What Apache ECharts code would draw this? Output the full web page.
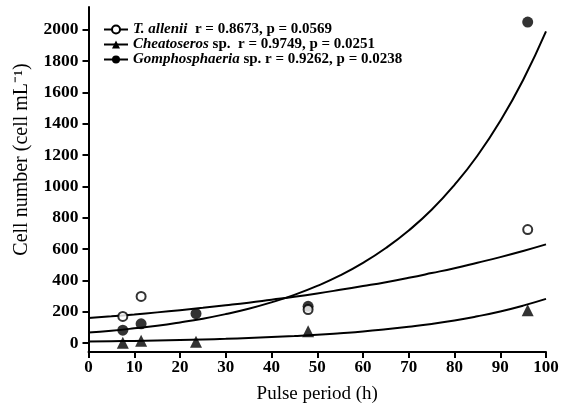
<!DOCTYPE html>
<html>
<head>
<meta charset="utf-8">
<script src="https://cdn.jsdelivr.net/npm/echarts@6/dist/echarts.min.js"></script>
<style>
html, body { margin: 0; padding: 0; background: #fff; }
#chart { width: 564px; height: 409px; }
</style>
</head>
<body>
<div id="chart"></div>
<script>
// measured points (pulse period h, cell mL-1)
var allenii = [[7.5, 170], [11.5, 298], [48, 214], [96, 725]];
var cheato = [[7.5, 2], [11.5, 15], [23.5, 8], [48, 75], [96, 210]];
var gompho = [[7.5, 82], [11.5, 123], [23.5, 188], [48, 235], [96, 2050]];

// fitted curves, every 5 h
var fitX = [0, 5, 10, 15, 20, 25, 30, 35, 40, 45, 50, 55, 60, 65, 70, 75, 80, 85, 90, 95, 100];
var fitAllenii = [160, 171, 183, 196, 210, 225, 241, 258, 277, 296, 317, 340, 364, 389, 417, 447, 478, 513, 549, 588, 630];
var fitCheato = [10, 12, 14, 16.5, 19.5, 23, 27, 32, 38, 45, 53, 63, 74, 88, 104, 122, 144, 171, 202, 239, 282];
var fitGompho = [67, 79, 94, 111, 132, 156, 185, 219, 260, 308, 365, 432, 512, 607, 719, 851, 1010, 1196, 1418, 1680, 1990];

var yTicks = [0, 200, 400, 600, 800, 1000, 1200, 1400, 1600, 1800, 2000];

var font = '"Liberation Serif", "Times New Roman", serif';

var pairs = function(xs, ys) {
	var out = [];
	for (var i = 0; i < xs.length; i++) {
		out.push([xs[i], ys[i]]);
	}
	return out;
};

var openDot = { color: '#fff', borderColor: '#000', borderWidth: 2 };
var fillDot = { color: '#000', borderColor: '#000', borderWidth: 0 };

var chart = echarts.init(document.getElementById('chart'));

chart.setOption({
	animation: false,
	backgroundColor: '#fff',
	grid: { left: 88.5, right: 18, top: 7, bottom: 56, containLabel: false },
	legend: {
		left: 98,
		top: 17,
		orient: 'vertical',
		itemWidth: 24,
		itemHeight: 10,
		itemGap: 0,
		data: ['ta', 'ch', 'go'],
		formatter: function(name) {
			if (name == 'ta') return '{i|T. allenii}{n|  r = 0.8673, p = 0.0569}';
			if (name == 'ch') return '{i|Cheatoseros}{n| sp.  r = 0.9749, p = 0.0251}';
			return '{i|Gomphosphaeria}{n| sp. r = 0.9262, p = 0.0238}';
		},
		textStyle: {
			color: '#000',
			rich: {
				i: { fontFamily: font, fontSize: 15, fontWeight: 'bold', fontStyle: 'italic', color: '#000', lineHeight: 14.5 },
				n: { fontFamily: font, fontSize: 15, fontWeight: 'bold', color: '#000', lineHeight: 14.5 }
			}
		}
	},
	xAxis: {
		type: 'value',
		min: 0,
		max: 100,
		interval: 10,
		name: 'Pulse period (h)',
		nameLocation: 'middle',
		nameGap: 33,
		nameTextStyle: { fontFamily: font, fontSize: 19, color: '#000' },
		axisLine: { onZero: false, lineStyle: { color: '#000', width: 2 } },
		axisTick: { length: 6, lineStyle: { color: '#000', width: 2 } },
		axisLabel: { fontFamily: font, fontSize: 17, fontWeight: 'bold', color: '#000', margin: 7 },
		splitLine: { show: false }
	},
	yAxis: {
		type: 'value',
		min: -57,
		max: 2146,
		name: 'Cell number (cell mL\u207B\u00B9)',
		nameLocation: 'middle',
		nameGap: 57,
		nameTextStyle: { fontFamily: font, fontSize: 20, color: '#000', padding: [0, 0, 0, 40] },
		axisLine: { onZero: false, lineStyle: { color: '#000', width: 2 } },
		axisTick: { length: 6, customValues: yTicks, lineStyle: { color: '#000', width: 2 } },
		axisLabel: {
			fontFamily: font, fontSize: 17.5, fontWeight: 'bold', color: '#000', margin: 10,
			customValues: yTicks,
			formatter: function(v) { return String(v); }
		},
		splitLine: { show: false }
	},
	series: [
		{
			name: 'ta', type: 'line', smooth: true, showSymbol: false,
			symbol: 'circle', symbolSize: 9, itemStyle: openDot,
			lineStyle: { color: '#000', width: 2 },
			data: pairs(fitX, fitAllenii), z: 2
		},
		{
			name: 'ch', type: 'line', smooth: true, showSymbol: false,
			symbol: 'triangle', symbolSize: 11, itemStyle: fillDot,
			lineStyle: { color: '#000', width: 2 },
			data: pairs(fitX, fitCheato), z: 2
		},
		{
			name: 'go', type: 'line', smooth: true, showSymbol: false,
			symbol: 'circle', symbolSize: 10, itemStyle: fillDot,
			lineStyle: { color: '#000', width: 2 },
			data: pairs(fitX, fitGompho), z: 2
		},
		{ name: 'ta pts', type: 'scatter', symbol: 'circle', symbolSize: 9, itemStyle: openDot, data: allenii, z: 4 },
		{ name: 'ch pts', type: 'scatter', symbol: 'triangle', symbolSize: 12, itemStyle: fillDot, data: cheato, z: 3 },
		{ name: 'go pts', type: 'scatter', symbol: 'circle', symbolSize: 11, itemStyle: fillDot, data: gompho, z: 3 }
	]
});
</script>
</body>
</html>
